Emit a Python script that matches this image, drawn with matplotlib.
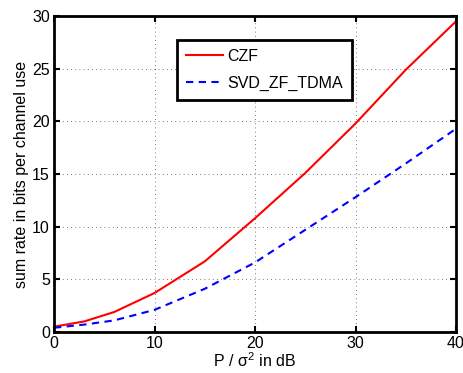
import numpy as np
import matplotlib.pyplot as plt

plt.rcParams['font.family'] = ['Liberation Sans', 'DejaVu Sans']
plt.rcParams['mathtext.fontset'] = 'custom'
plt.rcParams['mathtext.rm'] = 'Liberation Sans'
plt.rcParams['mathtext.it'] = 'Liberation Sans'

# valori
snr_db = [0, 3, 6, 10, 15, 20, 25, 30, 35, 40]
rate_czf = [0.5, 1.0, 1.9, 3.7, 6.7, 10.8, 15.1, 19.8, 24.9, 29.5]
rate_svd = [0.4, 0.7, 1.1, 2.1, 4.1, 6.6, 9.7, 12.8, 16.0, 19.3]

fig = plt.figure(figsize=(4.63, 3.73), dpi=100)
ax = fig.add_axes([0.1166, 0.110, 0.8684, 0.847])

ax.plot(snr_db, rate_czf, color="red", lw=1.5, label="CZF")
ax.plot(snr_db, rate_svd, color="blue", lw=1.5, ls=(0, (3.5, 2.6)), label="SVD_ZF_TDMA")

ax.set_xlim(0, 40); ax.set_ylim(0, 30)
ax.set_xticks([0, 10, 20, 30, 40])
ax.set_yticks([0, 5, 10, 15, 20, 25, 30])
ax.tick_params(direction='in', labelsize=11.5, length=4, width=1.5, top=True, right=True, pad=3)
for s in ax.spines.values():
    s.set_linewidth(2)
ax.grid(True, ls=(0, (1, 4)), color="black", lw=0.6, alpha=0.7)

ax.set_xlabel(r"P / $\sigma^2$ in dB", fontsize=11.5, labelpad=0)
ax.set_ylabel("sum rate in bits per channel use", fontsize=11.5, labelpad=2)

leg = ax.legend(loc='upper left', bbox_to_anchor=(0.306, 0.924), borderaxespad=0,
                fontsize=11.5, fancybox=False, framealpha=1, edgecolor="black",
                handlelength=2.3, handletextpad=0.3, borderpad=0.55, labelspacing=0.75)
leg.get_frame().set_linewidth(2)

plt.savefig('out.png', dpi=100)
